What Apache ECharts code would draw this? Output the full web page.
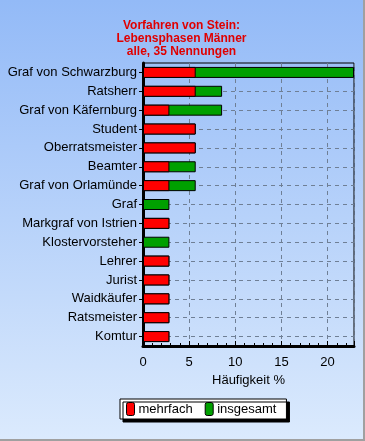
<!DOCTYPE html>
<html>
<head>
<meta charset="utf-8">
<script src="https://cdn.jsdelivr.net/npm/echarts@6/dist/echarts.min.js"></script>
<style>
html,body{margin:0;padding:0;background:#fff;}
#wrap{width:363px;height:439px;border-right:2px solid #a0a0a0;border-bottom:2px solid #a0a0a0;background:linear-gradient(#93baf7,#dbeafd);}
#chart{width:363px;height:439px;}
</style>
</head>
<body>
<div id="wrap"><div id="chart"></div></div>
<script>
const titleLines = ['Vorfahren von Stein:', 'Lebensphasen Männer', 'alle, 35 Nennungen'];
const categories = ['Graf von Schwarzburg','Ratsherr','Graf von Käfernburg','Student','Oberratsmeister','Beamter','Graf von Orlamünde','Graf','Markgraf von Istrien','Klostervorsteher','Lehrer','Jurist','Waidkäufer','Ratsmeister','Komtur'];
const mehrfach = [5.71,5.71,2.86,5.71,5.71,2.86,2.86,0,2.86,0,2.86,2.86,2.86,2.86,2.86];
const insgesamt = [22.86,8.57,8.57,5.71,5.71,5.71,5.71,2.86,2.86,2.86,2.86,2.86,2.86,2.86,2.86];
const xTicks = [0,5,10,15,20];
const xMax = 22.86;
const axisName = 'Häufigkeit %';

const chart = echarts.init(document.getElementById('chart'), null, {renderer:'canvas'});
const font = 'Liberation Sans, Arial, sans-serif';
chart.setOption({
  backgroundColor: 'transparent',
  animation: false,
  textStyle: {fontFamily: font},
  title: {
    text: titleLines.join('\n'),
    left: 'center',
    top: 14,
    textStyle: {color: '#e00000', fontSize: 12, fontWeight: 'bold', lineHeight: 13, fontFamily: font}
  },
  grid: {left: 143, right: 9, top: 63, bottom: 93, show: true, borderColor: '#000', borderWidth: 1, backgroundColor: 'transparent'},
  legend: {
    data: ['mehrfach','insgesamt'],
    bottom: 20,
    left: 120,
    width: 162,
    itemWidth: 8,
    itemHeight: 13,
    itemGap: 12,
    padding: [3,10,3,6],
    backgroundColor: '#fff',
    borderColor: '#000',
    borderWidth: 1,
    shadowColor: '#000',
    shadowOffsetX: 3,
    shadowOffsetY: 3,
    shadowBlur: 0,
    textStyle: {fontSize: 13, color: '#000', fontFamily: font, padding: [0,0,0,-1]},
    itemStyle: {borderColor: '#000', borderWidth: 1}
  },
  xAxis: {
    type: 'value',
    min: 0,
    max: xMax,
    interval: 5,
    name: axisName,
    nameLocation: 'middle',
    nameGap: 27,
    nameTextStyle: {fontSize: 13, color: '#000', fontFamily: font},
    axisLine: {show: true, lineStyle: {color: '#000', width: 3}},
    axisTick: {show: true, inside: true, length: 5, lineStyle: {color: '#000'}},
    minorTick: {show: true, splitNumber: 5, length: 3, lineStyle: {color: '#000'}},
    axisLabel: {fontSize: 13, color: '#000', margin: 10, showMaxLabel: false, fontFamily: font,
      formatter: v => xTicks.includes(v) ? String(v) : ''},
    splitLine: {show: true, lineStyle: {color: '#6f7f95', type: [4,4], width: 1}}
  },
  yAxis: {
    type: 'category',
    data: categories,
    inverse: true,
    axisLine: {show: true, lineStyle: {color: '#000', width: 3}},
    axisTick: {show: true, alignWithLabel: true, length: 4, lineStyle: {color: '#000'}},
    axisLabel: {fontSize: 13, color: '#000', margin: 6, fontFamily: font},
    splitLine: {show: false}
  },
  series: [
    {
      name: 'insgesamt',
      type: 'bar',
      data: insgesamt,
      barWidth: 11,
      barGap: '-100%',
      itemStyle: {color: '#00a000', borderColor: '#000', borderWidth: 1},
      markLine: {
        silent: true,
        z: 1,
        symbol: 'none',
        label: {show: false},
        lineStyle: {color: '#6f7f95', type: [4,4], width: 1},
        data: categories.map(c => ({yAxis: c}))
      }
    },
    {
      name: 'mehrfach',
      type: 'bar',
      data: mehrfach,
      barWidth: 11,
      barGap: '-100%',
      itemStyle: {color: '#ff0000', borderColor: '#000', borderWidth: 1}
    }
  ]
});
</script>
</body>
</html>
